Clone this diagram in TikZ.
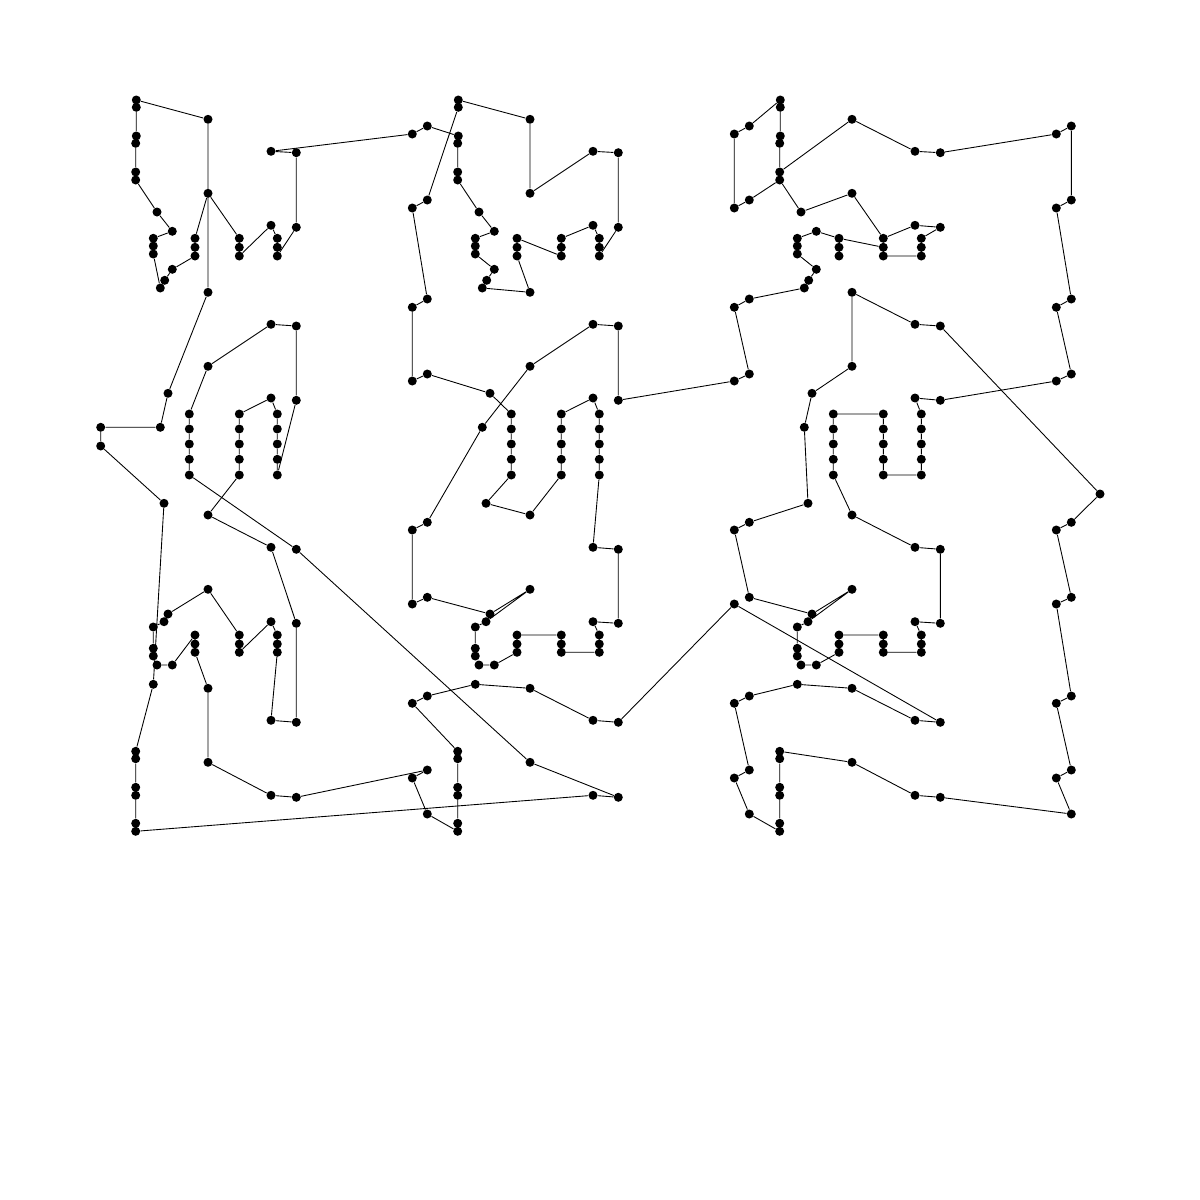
\documentclass[tikz,border=0pt]{standalone}
\begin{document}
\begin{tikzpicture}[x=.02cm, y=-.02cm,
  city/.style={circle, fill, inner sep=0pt, minimum size=1.8mm},
  link/.style={line width=.5pt}]
\useasboundingbox (0,0) rectangle (1200,1200);
% first column
\node[city] (aT1) at (136.3,100){};
\node[city] (aT2) at (136.3,107.3){};
\node[city] (aT3) at (208,119.3){};
\node[city] (aT4) at (136.3,136){};
\node[city] (aT5) at (135.7,143.3){};
\node[city] (aT6) at (135.7,172){};
\node[city] (aT7) at (135.7,180){};
\node[city] (aT8) at (157,212){};
\node[city] (aT9) at (172.3,231.3){};
\node[city] (aT10) at (153.3,238.3){};
\node[city] (aT11) at (153.3,246){};
\node[city] (aT12) at (153.3,254){};
\node[city] (aT13) at (172.3,269.3){};
\node[city] (aT14) at (164.7,280.3){};
\node[city] (aT15) at (160.3,288){};
\node[city] (aT16) at (195,238.3){};
\node[city] (aT17) at (195,247.3){};
\node[city] (aT18) at (195,256){};
\node[city] (aT19) at (208,193.3){};
\node[city] (aT20) at (239.3,238.3){};
\node[city] (aT21) at (239.3,247.3){};
\node[city] (aT22) at (239.3,256){};
\node[city] (aT23) at (271,225.3){};
\node[city] (aT24) at (277.3,238.3){};
\node[city] (aT25) at (277.3,247.3){};
\node[city] (aT26) at (277.3,256){};
\node[city] (aT27) at (296.3,227.3){};
\node[city] (aT28) at (296.3,152.7){};
\node[city] (aT29) at (271,151.3){};
\node[city] (aT30) at (208,292.3){};
\node[city] (aM1) at (208,366.3){};
\node[city] (aM2) at (168,393.3){};
\node[city] (aM3) at (160.3,427.3){};
\node[city] (aM4) at (271,324.3){};
\node[city] (aM5) at (296.3,326){};
\node[city] (aM6) at (296.3,400.3){};
\node[city] (aM7) at (271,398){};
\node[city] (aM8) at (189.3,414){};
\node[city] (aM9) at (189.3,429){};
\node[city] (aM10) at (189.3,444){};
\node[city] (aM11) at (189.3,459.3){};
\node[city] (aM12) at (189.3,475){};
\node[city] (aM13) at (239.3,414){};
\node[city] (aM14) at (239.3,429){};
\node[city] (aM15) at (239.3,444){};
\node[city] (aM16) at (239.3,459.3){};
\node[city] (aM17) at (239.3,475){};
\node[city] (aM18) at (277.3,414){};
\node[city] (aM19) at (277.3,429){};
\node[city] (aM20) at (277.3,444){};
\node[city] (aM21) at (277.3,459.3){};
\node[city] (aM22) at (277.3,475){};
\node[city] (aL1) at (164,503.3){};
\node[city] (aL2) at (208,515){};
\node[city] (aL3) at (271,547.3){};
\node[city] (aL4) at (296.3,549.3){};
\node[city] (aL5) at (208,589.3){};
\node[city] (aL6) at (168,614){};
\node[city] (aL7) at (164,621.7){};
\node[city] (aL8) at (153.3,627){};
\node[city] (aL9) at (153.3,648.3){};
\node[city] (aL10) at (153.3,656){};
\node[city] (aL11) at (157,665){};
\node[city] (aL12) at (172.3,665){};
\node[city] (aL13) at (195,635){};
\node[city] (aL14) at (195,644){};
\node[city] (aL15) at (195,652.3){};
\node[city] (aL16) at (239.3,635){};
\node[city] (aL17) at (239.3,644){};
\node[city] (aL18) at (239.3,652.3){};
\node[city] (aL19) at (271,621.7){};
\node[city] (aL20) at (277.3,635){};
\node[city] (aL21) at (277.3,644){};
\node[city] (aL22) at (277.3,652.3){};
\node[city] (aL23) at (296.3,623.3){};
\node[city] (aB1) at (153.3,684.3){};
\node[city] (aB2) at (208,688.3){};
\node[city] (aB3) at (208,762.3){};
\node[city] (aB4) at (271,720.3){};
\node[city] (aB5) at (296.3,722.3){};
\node[city] (aB6) at (271,795.3){};
\node[city] (aB7) at (296.3,797.3){};
\node[city] (aB8) at (135.7,751.3){};
\node[city] (aB9) at (135.7,758.7){};
\node[city] (aB10) at (135.7,787.3){};
\node[city] (aB11) at (135.7,795.3){};
\node[city] (aB12) at (135.7,823.3){};
\node[city] (aB13) at (135.7,831.3){};
% second column
\node[city] (bT1) at (458.3,100){};
\node[city] (bT2) at (458.3,107.3){};
\node[city] (bT3) at (530,119.3){};
\node[city] (bT4) at (458.3,136){};
\node[city] (bT5) at (457.7,143.3){};
\node[city] (bT6) at (457.7,172){};
\node[city] (bT7) at (457.7,180){};
\node[city] (bT8) at (479,212){};
\node[city] (bT9) at (494.3,231.3){};
\node[city] (bT10) at (475.3,238.3){};
\node[city] (bT11) at (475.3,246){};
\node[city] (bT12) at (475.3,254){};
\node[city] (bT13) at (494.3,269.3){};
\node[city] (bT14) at (486.7,280.3){};
\node[city] (bT15) at (482.3,288){};
\node[city] (bT16) at (517,238.3){};
\node[city] (bT17) at (517,247.3){};
\node[city] (bT18) at (517,256){};
\node[city] (bT19) at (530,193.3){};
\node[city] (bT20) at (561.3,238.3){};
\node[city] (bT21) at (561.3,247.3){};
\node[city] (bT22) at (561.3,256){};
\node[city] (bT23) at (593,225.3){};
\node[city] (bT24) at (599.3,238.3){};
\node[city] (bT25) at (599.3,247.3){};
\node[city] (bT26) at (599.3,256){};
\node[city] (bT27) at (618.3,227.3){};
\node[city] (bT28) at (618.3,152.7){};
\node[city] (bT29) at (593,151.3){};
\node[city] (bT30) at (530,292.3){};
\node[city] (bM1) at (530,366.3){};
\node[city] (bM2) at (490,393.3){};
\node[city] (bM3) at (482.3,427.3){};
\node[city] (bM4) at (593,324.3){};
\node[city] (bM5) at (618.3,326){};
\node[city] (bM6) at (618.3,400.3){};
\node[city] (bM7) at (593,398){};
\node[city] (bM8) at (511.3,414){};
\node[city] (bM9) at (511.3,429){};
\node[city] (bM10) at (511.3,444){};
\node[city] (bM11) at (511.3,459.3){};
\node[city] (bM12) at (511.3,475){};
\node[city] (bM13) at (561.3,414){};
\node[city] (bM14) at (561.3,429){};
\node[city] (bM15) at (561.3,444){};
\node[city] (bM16) at (561.3,459.3){};
\node[city] (bM17) at (561.3,475){};
\node[city] (bM18) at (599.3,414){};
\node[city] (bM19) at (599.3,429){};
\node[city] (bM20) at (599.3,444){};
\node[city] (bM21) at (599.3,459.3){};
\node[city] (bM22) at (599.3,475){};
\node[city] (bL1) at (486,503.3){};
\node[city] (bL2) at (530,515){};
\node[city] (bL3) at (593,547.3){};
\node[city] (bL4) at (618.3,549.3){};
\node[city] (bL5) at (530,589.3){};
\node[city] (bL6) at (490,614){};
\node[city] (bL7) at (486,621.7){};
\node[city] (bL8) at (475.3,627){};
\node[city] (bL9) at (475.3,648.3){};
\node[city] (bL10) at (475.3,656){};
\node[city] (bL11) at (479,665){};
\node[city] (bL12) at (494.3,665){};
\node[city] (bL13) at (517,635){};
\node[city] (bL14) at (517,644){};
\node[city] (bL15) at (517,652.3){};
\node[city] (bL16) at (561.3,635){};
\node[city] (bL17) at (561.3,644){};
\node[city] (bL18) at (561.3,652.3){};
\node[city] (bL19) at (593,621.7){};
\node[city] (bL20) at (599.3,635){};
\node[city] (bL21) at (599.3,644){};
\node[city] (bL22) at (599.3,652.3){};
\node[city] (bL23) at (618.3,623.3){};
\node[city] (bB1) at (475.3,684.3){};
\node[city] (bB2) at (530,688.3){};
\node[city] (bB3) at (530,762.3){};
\node[city] (bB4) at (593,720.3){};
\node[city] (bB5) at (618.3,722.3){};
\node[city] (bB6) at (593,795.3){};
\node[city] (bB7) at (618.3,797.3){};
\node[city] (bB8) at (457.7,751.3){};
\node[city] (bB9) at (457.7,758.7){};
\node[city] (bB10) at (457.7,787.3){};
\node[city] (bB11) at (457.7,795.3){};
\node[city] (bB12) at (457.7,823.3){};
\node[city] (bB13) at (457.7,831.3){};
% third column
\node[city] (cT1) at (780.3,100){};
\node[city] (cT2) at (780.3,107.3){};
\node[city] (cT3) at (852,119.3){};
\node[city] (cT4) at (780.3,136){};
\node[city] (cT5) at (779.7,143.3){};
\node[city] (cT6) at (779.7,172){};
\node[city] (cT7) at (779.7,180){};
\node[city] (cT8) at (801,212){};
\node[city] (cT9) at (816.3,231.3){};
\node[city] (cT10) at (797.3,238.3){};
\node[city] (cT11) at (797.3,246){};
\node[city] (cT12) at (797.3,254){};
\node[city] (cT13) at (816.3,269.3){};
\node[city] (cT14) at (808.7,280.3){};
\node[city] (cT15) at (804.3,288){};
\node[city] (cT16) at (839,238.3){};
\node[city] (cT17) at (839,247.3){};
\node[city] (cT18) at (839,256){};
\node[city] (cT19) at (852,193.3){};
\node[city] (cT20) at (883.3,238.3){};
\node[city] (cT21) at (883.3,247.3){};
\node[city] (cT22) at (883.3,256){};
\node[city] (cT23) at (915,225.3){};
\node[city] (cT24) at (921.3,238.3){};
\node[city] (cT25) at (921.3,247.3){};
\node[city] (cT26) at (921.3,256){};
\node[city] (cT27) at (940.3,227.3){};
\node[city] (cT28) at (940.3,152.7){};
\node[city] (cT29) at (915,151.3){};
\node[city] (cT30) at (852,292.3){};
\node[city] (cM1) at (852,366.3){};
\node[city] (cM2) at (812,393.3){};
\node[city] (cM3) at (804.3,427.3){};
\node[city] (cM4) at (915,324.3){};
\node[city] (cM5) at (940.3,326){};
\node[city] (cM6) at (940.3,400.3){};
\node[city] (cM7) at (915,398){};
\node[city] (cM8) at (833.3,414){};
\node[city] (cM9) at (833.3,429){};
\node[city] (cM10) at (833.3,444){};
\node[city] (cM11) at (833.3,459.3){};
\node[city] (cM12) at (833.3,475){};
\node[city] (cM13) at (883.3,414){};
\node[city] (cM14) at (883.3,429){};
\node[city] (cM15) at (883.3,444){};
\node[city] (cM16) at (883.3,459.3){};
\node[city] (cM17) at (883.3,475){};
\node[city] (cM18) at (921.3,414){};
\node[city] (cM19) at (921.3,429){};
\node[city] (cM20) at (921.3,444){};
\node[city] (cM21) at (921.3,459.3){};
\node[city] (cM22) at (921.3,475){};
\node[city] (cL1) at (808,503.3){};
\node[city] (cL2) at (852,515){};
\node[city] (cL3) at (915,547.3){};
\node[city] (cL4) at (940.3,549.3){};
\node[city] (cL5) at (852,589.3){};
\node[city] (cL6) at (812,614){};
\node[city] (cL7) at (808,621.7){};
\node[city] (cL8) at (797.3,627){};
\node[city] (cL9) at (797.3,648.3){};
\node[city] (cL10) at (797.3,656){};
\node[city] (cL11) at (801,665){};
\node[city] (cL12) at (816.3,665){};
\node[city] (cL13) at (839,635){};
\node[city] (cL14) at (839,644){};
\node[city] (cL15) at (839,652.3){};
\node[city] (cL16) at (883.3,635){};
\node[city] (cL17) at (883.3,644){};
\node[city] (cL18) at (883.3,652.3){};
\node[city] (cL19) at (915,621.7){};
\node[city] (cL20) at (921.3,635){};
\node[city] (cL21) at (921.3,644){};
\node[city] (cL22) at (921.3,652.3){};
\node[city] (cL23) at (940.3,623.3){};
\node[city] (cB1) at (797.3,684.3){};
\node[city] (cB2) at (852,688.3){};
\node[city] (cB3) at (852,762.3){};
\node[city] (cB4) at (915,720.3){};
\node[city] (cB5) at (940.3,722.3){};
\node[city] (cB6) at (915,795.3){};
\node[city] (cB7) at (940.3,797.3){};
\node[city] (cB8) at (779.7,751.3){};
\node[city] (cB9) at (779.7,758.7){};
\node[city] (cB10) at (779.7,787.3){};
\node[city] (cB11) at (779.7,795.3){};
\node[city] (cB12) at (779.7,823.3){};
\node[city] (cB13) at (779.7,831.3){};
% side posts
\node[city] (fbF1) at (427.3,126){};
\node[city] (fbF2) at (412.3,134){};
\node[city] (fbF3) at (427.3,200){};
\node[city] (fbF4) at (412.3,208){};
\node[city] (fbF5) at (427.3,299){};
\node[city] (fbF6) at (412.3,307.3){};
\node[city] (fbF7) at (427.3,374){};
\node[city] (fbF8) at (412.3,381){};
\node[city] (fbF9) at (427.3,522.3){};
\node[city] (fbF10) at (412.3,530){};
\node[city] (fbF11) at (427.3,597.3){};
\node[city] (fbF12) at (412.3,604){};
\node[city] (fbF13) at (427.3,696){};
\node[city] (fbF14) at (412.3,703.3){};
\node[city] (fbF15) at (427.3,770){};
\node[city] (fbF16) at (412.3,778){};
\node[city] (fbF17) at (427.3,814){};
\node[city] (fcF1) at (749.3,126){};
\node[city] (fcF2) at (734.3,134){};
\node[city] (fcF3) at (749.3,200){};
\node[city] (fcF4) at (734.3,208){};
\node[city] (fcF5) at (749.3,299){};
\node[city] (fcF6) at (734.3,307.3){};
\node[city] (fcF7) at (749.3,374){};
\node[city] (fcF8) at (734.3,381){};
\node[city] (fcF9) at (749.3,522.3){};
\node[city] (fcF10) at (734.3,530){};
\node[city] (fcF11) at (749.3,597.3){};
\node[city] (fcF12) at (734.3,604){};
\node[city] (fcF13) at (749.3,696){};
\node[city] (fcF14) at (734.3,703.3){};
\node[city] (fcF15) at (749.3,770){};
\node[city] (fcF16) at (734.3,778){};
\node[city] (fcF17) at (749.3,814){};
\node[city] (fdF1) at (1071.3,126){};
\node[city] (fdF2) at (1056.3,134){};
\node[city] (fdF3) at (1071.3,200){};
\node[city] (fdF4) at (1056.3,208){};
\node[city] (fdF5) at (1071.3,299){};
\node[city] (fdF6) at (1056.3,307.3){};
\node[city] (fdF7) at (1071.3,374){};
\node[city] (fdF8) at (1056.3,381){};
\node[city] (fdF9) at (1071.3,522.3){};
\node[city] (fdF10) at (1056.3,530){};
\node[city] (fdF11) at (1071.3,597.3){};
\node[city] (fdF12) at (1056.3,604){};
\node[city] (fdF13) at (1071.3,696){};
\node[city] (fdF14) at (1056.3,703.3){};
\node[city] (fdF15) at (1071.3,770){};
\node[city] (fdF16) at (1056.3,778){};
\node[city] (fdF17) at (1071.3,814){};
\node[city] (x1) at (100.7,427.3){};
\node[city] (x2) at (100.7,446){};
\node[city] (x3) at (1100,494){};
% the tour
\draw[link] (aT3) -- (aT1) -- (aT2) -- (aT4) -- (aT5) -- (aT6) -- (aT7) -- (aT8) -- (aT9) -- (aT10) -- (aT11) -- (aT12) -- (aT15) -- (aT14) -- (aT13) -- (aT18) -- (aT17) -- (aT16) -- (aT19) -- (aT20) -- (aT21) -- (aT22) -- (aT23) -- (aT24) -- (aT25) -- (aT26) -- (aT27) -- (aT28) -- (aT29) -- (fbF2) -- (fbF1) -- (bT4);
\draw[link] (bT4) -- (bT5) -- (bT6) -- (bT7) -- (bT8) -- (bT9) -- (bT10) -- (bT11) -- (bT12) -- (bT13) -- (bT14) -- (bT15) -- (bT30) -- (bT18) -- (bT17) -- (bT16) -- (bT22) -- (bT21) -- (bT20) -- (bT23) -- (bT24) -- (bT25) -- (bT26) -- (bT27) -- (bT28) -- (bT29) -- (bT19) -- (bT3) -- (bT1) -- (bT2) -- (fbF3) -- (fbF4) -- (fbF5) -- (fbF6) -- (fbF8) -- (fbF7) -- (bM2);
\draw[link] (bM2) -- (bM8) -- (bM9) -- (bM10) -- (bM11) -- (bM12) -- (bL1) -- (bL2) -- (bM17) -- (bM16) -- (bM15) -- (bM14) -- (bM13) -- (bM7) -- (bM18) -- (bM19) -- (bM20) -- (bM21) -- (bM22) -- (bL3) -- (bL4) -- (bL23) -- (bL19) -- (bL20) -- (bL21) -- (bL22) -- (bL18) -- (bL17) -- (bL16) -- (bL13) -- (bL14) -- (bL15) -- (bL12) -- (bL11) -- (bL10) -- (bL9) -- (bL8) -- (bL7) -- (bL5) -- (bL6) -- (fbF11) -- (fbF12) -- (fbF10) -- (fbF9) -- (bM3) -- (bM1) -- (bM4) -- (bM5) -- (bM6) -- (fcF8);
\draw[link] (fcF8) -- (fcF7) -- (fcF6) -- (fcF5) -- (cT15) -- (cT14) -- (cT13) -- (cT12) -- (cT11) -- (cT10) -- (cT9) -- (cT16) -- (cT21) -- (cT22) -- (cT26) -- (cT25) -- (cT24) -- (cT27) -- (cT23) -- (cT20) -- (cT19) -- (cT8) -- (cT7) -- (fcF3) -- (fcF4) -- (fcF2) -- (fcF1) -- (cT1) -- (cT2) -- (cT4) -- (cT5) -- (cT6) -- (cT3) -- (cT29) -- (cT28) -- (fdF2) -- (fdF1) -- (fdF3) -- (fdF4) -- (fdF5) -- (fdF6) -- (fdF7) -- (fdF8) -- (cM6);
\draw[link] (cT16) -- (cT17) -- (cT18);
\draw[link] (cM6) -- (cM7) -- (cM18) -- (cM19) -- (cM20) -- (cM21) -- (cM22) -- (cM17) -- (cM16) -- (cM15) -- (cM14) -- (cM13) -- (cM8) -- (cM9) -- (cM10) -- (cM11) -- (cM12) -- (cL2) -- (cL3) -- (cL4) -- (cL23) -- (cL19) -- (cL20) -- (cL21) -- (cL22) -- (cL18) -- (cL17) -- (cL16) -- (cL13) -- (cL14) -- (cL15) -- (cL12) -- (cL11) -- (cL10) -- (cL9) -- (cL8) -- (cL7) -- (cL5) -- (cL6) -- (fcF11) -- (fcF10) -- (fcF9) -- (cL1) -- (cM3) -- (cM2) -- (cM1) -- (cT30) -- (cM4) -- (cM5) -- (x3);
\draw[link] (x3) -- (fdF9) -- (fdF10) -- (fdF11) -- (fdF12) -- (fdF13) -- (fdF14) -- (fdF15) -- (fdF16) -- (fdF17) -- (cB7) -- (cB6) -- (cB3) -- (cB8) -- (cB9) -- (cB10) -- (cB11) -- (cB12) -- (cB13) -- (fcF17) -- (fcF16) -- (fcF15) -- (fcF14) -- (fcF13) -- (cB1) -- (cB2) -- (cB4) -- (cB5) -- (fcF12) -- (bB5);
\draw[link] (bB5) -- (bB4) -- (bB2) -- (bB1) -- (fbF13) -- (fbF14) -- (bB8) -- (bB9) -- (bB10) -- (bB11) -- (bB12) -- (bB13) -- (fbF17) -- (fbF16) -- (fbF15) -- (aB7) -- (aB6) -- (aB3) -- (aB2) -- (aL15) -- (aL14) -- (aL13) -- (aL12) -- (aL11) -- (aL10) -- (aL9) -- (aL8) -- (aL7) -- (aL6) -- (aL5) -- (aL16) -- (aL17) -- (aL18) -- (aL19) -- (aL20) -- (aL21) -- (aL22) -- (aB4) -- (aB5) -- (aL23) -- (aL3) -- (aL2) -- (aM17);
\draw[link] (aM17) -- (aM16) -- (aM15) -- (aM14) -- (aM13) -- (aM7) -- (aM18) -- (aM19) -- (aM20) -- (aM21) -- (aM22) -- (aM6) -- (aM5) -- (aM4) -- (aM1) -- (aM8) -- (aM9) -- (aM10) -- (aM11) -- (aM12) -- (aL4) -- (bB3) -- (bB7) -- (bB6) -- (aB13) -- (aB12) -- (aB11) -- (aB10) -- (aB9) -- (aB8) -- (aB1) -- (aL1) -- (x2) -- (x1) -- (aM3) -- (aM2) -- (aT30) -- (aT3);
\end{tikzpicture}
\end{document}
